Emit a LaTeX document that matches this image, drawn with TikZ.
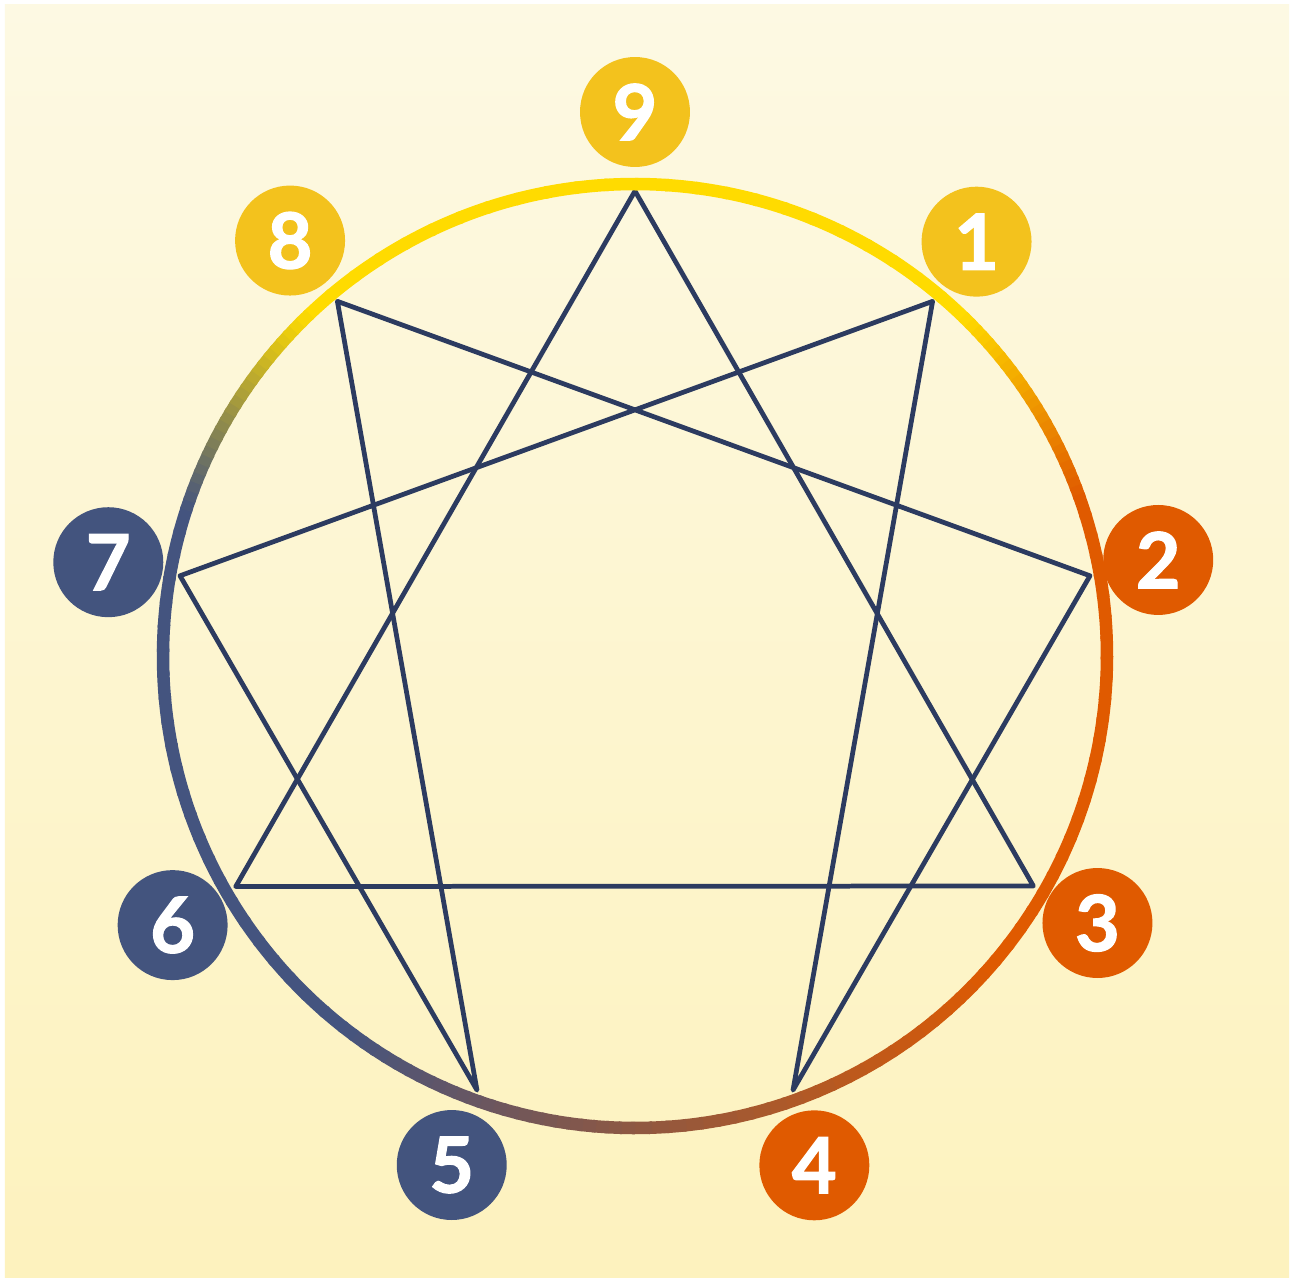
\documentclass[tikz,border=0pt]{standalone}
\usepackage{fontspec}
\setmainfont{Lato}[BoldFeatures={FakeBold=1.6}]

\definecolor{bgtop}{HTML}{FDF9E3}
\definecolor{bgbot}{HTML}{FDF2BE}
\definecolor{ringY}{HTML}{FFDB00}
\definecolor{ringO}{HTML}{E05A00}
\definecolor{ringB}{HTML}{8E5842}
\definecolor{ringN}{HTML}{44547F}
\definecolor{lineblue}{HTML}{2C3B60}
\definecolor{numY}{HTML}{F3C21D}
\definecolor{numO}{HTML}{E05A00}
\definecolor{numN}{HTML}{43547E}

\begin{document}
\begin{tikzpicture}[
    x=0.02cm, y=0.02cm,
    ring/.style={line width=0.25cm},
    chord/.style={line width=0.095cm, draw=lineblue, line join=round},
    num/.style={
        circle, minimum size=2.2cm, inner sep=0pt,
        text=white, font=\fontsize{44}{44}\selectfont\bfseries
    }
]
\useasboundingbox (-635,-623) rectangle (656,656);
\fill[white] (-635,-623) rectangle (656,656);
\shade[top color=bgtop, bottom color=bgbot] (-630,-621) rectangle (654,651);

% points on the circle
\coordinate (p9) at (90:465);
\coordinate (p1) at (50:463);
\coordinate (p2) at (10:462);
\coordinate (p3) at (-30:460);
\coordinate (p4) at (-70:462);
\coordinate (p5) at (-110:462);
\coordinate (p6) at (-150:461);
\coordinate (p7) at (170:462);
\coordinate (p8) at (130:463);

% inner lines
\draw[chord] (p1) -- (p4) -- (p2) -- (p8) -- (p5) -- (p7) -- cycle;
\draw[chord] (p9) -- (p3) -- (p6) -- cycle;

% coloured ring
\foreach \sa/\ea/\ca/\cb in {134/46/ringY/ringY, 46/20/ringY/ringO, 20/-40/ringO/ringO,
    -40/-90/ringO/ringB, -90/-128/ringB/ringN, -128/-198/ringN/ringN, -198/-226/ringN/ringY}{
  \foreach \i in {1,...,24}{
    \pgfmathsetmacro\aa{\sa+(\ea-\sa)*(\i-1)/24}
    \pgfmathsetmacro\ab{\sa+(\ea-\sa)*\i/24-0.4}
    \pgfmathtruncatemacro\pc{100*(\i-0.5)/24}
    \colorlet{segc}{\cb!\pc!\ca}
    \draw[ring, draw=segc] (\aa:472) arc[start angle=\aa, end angle=\ab, radius=472];
  }
}

% numbers
\node[num, fill=numY] (l9) at (90:544) {9};
\node[num, fill=numY] (l1) at (50.5:537) {1};
\node[num, fill=numO] (l2) at (10.4:532) {2};
\node[num, fill=numO] (l3) at (-30:534) {3};
\node[num, fill=numO] (l4) at (-70.6:540) {4};
\node[num, fill=numN] (l5) at (-109.8:541) {5};
\node[num, fill=numN] (l6) at (-149.8:535) {6};
\node[num, fill=numN] (l7) at (169.9:535) {7};
\node[num, fill=numY] (l8) at (129.7:540) {8};
\end{tikzpicture}
\end{document}
